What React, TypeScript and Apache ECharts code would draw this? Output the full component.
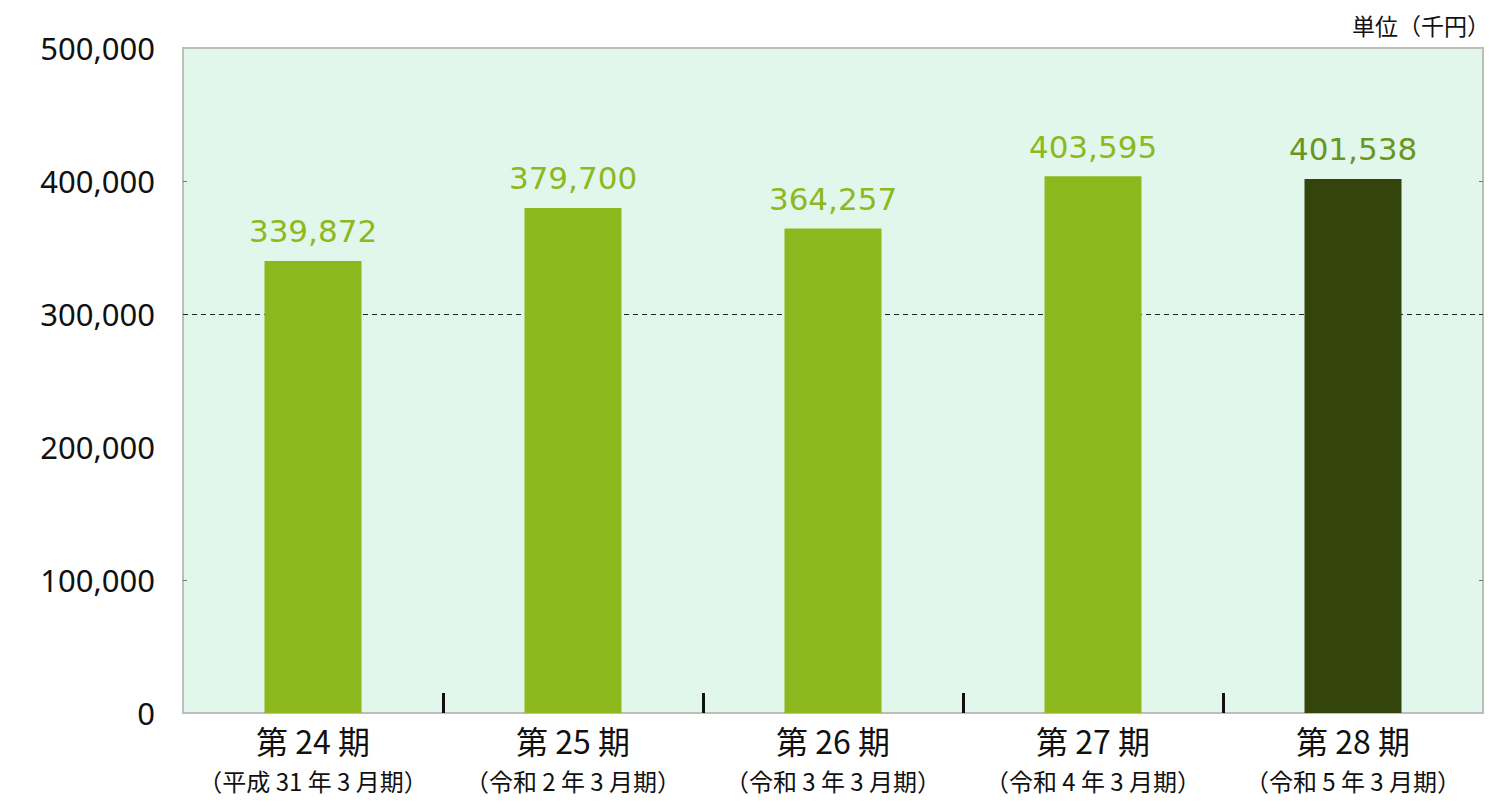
import React, { useEffect, useRef } from "react";
import * as echarts from "echarts";

const periods = ["第 24 期", "第 25 期", "第 26 期", "第 27 期", "第 28 期"];
const subLabels = [
  "（平成 31 年 3 月期）",
  "（令和 2 年 3 月期）",
  "（令和 3 年 3 月期）",
  "（令和 4 年 3 月期）",
  "（令和 5 年 3 月期）",
];
const values = [339872, 379700, 364257, 403595, 401538];
const unitText = "単位（千円）";

export default function App() {
  const ref = useRef<HTMLDivElement>(null);
  useEffect(() => {
    if (!ref.current) return;
    const chart = echarts.init(ref.current, undefined, { renderer: "svg" });
    const last = values.length - 1;
    chart.setOption({
      animation: false,
      backgroundColor: "#ffffff",
      grid: {
        left: 183,
        right: 17,
        top: 48,
        bottom: 97,
        show: true,
        backgroundColor: "#e2f7ec",
        borderColor: "#bdbdbd",
        borderWidth: 2,
      },
      graphic: [
        {
          type: "text",
          right: 10,
          top: 13,
          style: {
            text: unitText,
            fontSize: 23,
            fontFamily: "'Noto Sans CJK JP', sans-serif",
            fill: "#111",
          },
        },
      ],
      xAxis: [
        {
          type: "category",
          data: periods,
          axisLine: { show: true, lineStyle: { color: "#bdbdbd", width: 2 } },
          axisTick: { show: false },
          axisLabel: {
            margin: 7,
            formatter: (v: string, i: number) => `{a|${v}}\n{b|${subLabels[i]}}`,
            rich: {
              a: {
                fontSize: 32,
                lineHeight: 40,
                color: "#111",
                fontFamily: "'Noto Sans CJK JP', sans-serif",
              },
              b: {
                fontSize: 24,
                lineHeight: 40,
                color: "#111",
                fontFamily: "'Noto Sans CJK JP', sans-serif",
              },
            },
          },
        },
        {
          type: "value",
          min: 0,
          max: 5,
          interval: 1,
          position: "bottom",
          show: true,
          axisLine: { show: false },
          axisLabel: { show: false },
          splitLine: { show: false },
          axisTick: {
            show: true,
            inside: true,
            length: 20,
            customValues: [1, 2, 3, 4],
            lineStyle: { color: "#111", width: 3 },
          },
        },
      ],
      yAxis: [
        {
          type: "value",
          min: 0,
          max: 500000,
          interval: 100000,
          axisLine: { show: false },
          splitLine: { show: false },
          axisTick: {
            show: true,
            inside: true,
            length: 4,
            customValues: [100000, 400000],
            lineStyle: { color: "#777" },
          },
          axisLabel: {
            margin: 28,
            fontSize: 31,
            color: "#111",
            fontFamily: "'Noto Sans', sans-serif",
            formatter: (v: number) => v.toLocaleString("en-US"),
          },
        },
        {
          type: "value",
          min: 0,
          max: 500000,
          interval: 100000,
          position: "right",
          axisLine: { show: false },
          splitLine: { show: false },
          axisLabel: { show: false },
          axisTick: {
            show: true,
            inside: true,
            length: 4,
            customValues: [100000, 400000],
            lineStyle: { color: "#777" },
          },
        },
      ],
      series: [
        {
          type: "line",
          xAxisIndex: 1,
          yAxisIndex: 0,
          data: [],
          z: 1,
          silent: true,
          markLine: {
            z: 1,
            symbol: "none",
            silent: true,
            label: { show: false },
            lineStyle: { color: "#222", type: [5, 4], width: 1 },
            data: [{ yAxis: 300000 }],
          },
        },
        {
          type: "bar",
          xAxisIndex: 0,
          yAxisIndex: 0,
          barWidth: 97,
          z: 3,
          data: values.map((v, i) =>
            i === last
              ? {
                  value: v,
                  itemStyle: { color: "#33450b" },
                  label: { color: "#6b961e" },
                }
              : { value: v, itemStyle: { color: "#8cb81e" } }
          ),
          label: {
            show: true,
            position: "top",
            distance: 14,
            fontSize: 31,
            color: "#8db81e",
            fontFamily: "'DejaVu Sans', Verdana, sans-serif",
            formatter: (p: any) => Number(p.value).toLocaleString("en-US"),
          },
        },
      ],
    });
    return () => chart.dispose();
  }, []);
  return (
    <div
      ref={ref}
      style={{ position: "fixed", left: 0, top: 0, width: 1500, height: 810 }}
    />
  );
}
